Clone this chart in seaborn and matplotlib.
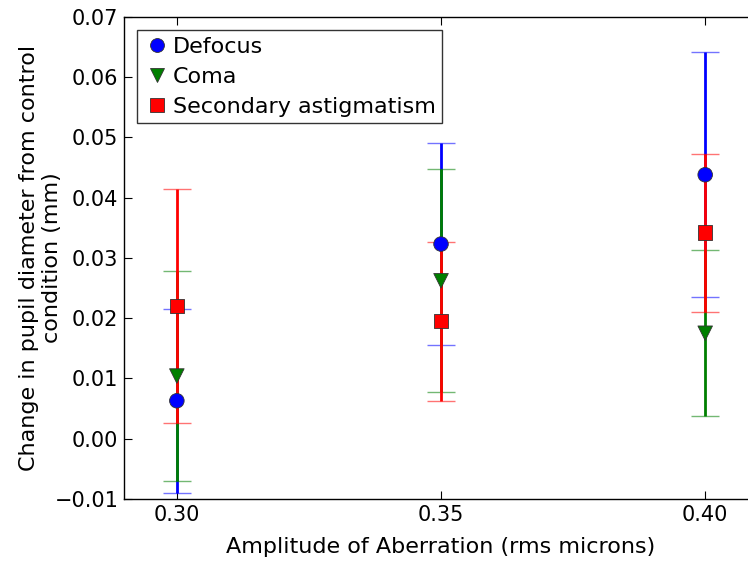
import matplotlib
matplotlib.use("Agg")
import matplotlib.pyplot as plt
import seaborn as sns
import pandas as pd

amplitudes = [0.30, 0.35, 0.40]
series = ["Defocus", "Coma", "Secondary astigmatism"]
defocus_mean = [0.0063, 0.0323, 0.0438]
defocus_err = [0.0153, 0.0167, 0.0203]
coma_mean = [0.0104, 0.0262, 0.0175]
coma_err = [0.0174, 0.0185, 0.0138]
astig_mean = [0.0220, 0.0195, 0.0342]
astig_err = [0.0194, 0.0132, 0.0131]

means = [defocus_mean, coma_mean, astig_mean]
errs = [defocus_err, coma_err, astig_err]
colors = ["#0000ff", "#007f00", "#ff0000"]
markers = ["o", "v", "s"]

rows = []
for name, m, e in zip(series, means, errs):
    for x, v, er in zip(amplitudes, m, e):
        rows.append({"amp": x, "val": v, "err": er, "series": name})
df = pd.DataFrame(rows)

sns.set_style("white")
plt.rcParams["font.family"] = ["DejaVu Sans"]
plt.rcParams["xtick.direction"] = "in"
plt.rcParams["ytick.direction"] = "in"
plt.rcParams["text.color"] = "black"
plt.rcParams["axes.labelcolor"] = "black"
plt.rcParams["xtick.color"] = "black"
plt.rcParams["ytick.color"] = "black"

fig = plt.figure(figsize=(7.48, 5.61), dpi=100)
ax = fig.add_axes([0.1658, 0.1105, 1.0134 - 0.1658, 0.970 - 0.1105])

for name, c in zip(series, colors):
    d = df[df["series"] == name]
    _, caps, _ = ax.errorbar(d["amp"], d["val"], yerr=d["err"], fmt="none", ecolor=c,
                             elinewidth=2, capsize=10, capthick=1, zorder=2)
    for cp in caps:
        cp.set_alpha(0.55)

sns.scatterplot(data=df, x="amp", y="val", hue="series", style="series",
                palette=dict(zip(series, colors)), markers=dict(zip(series, markers)),
                s=110, edgecolor="#333333", linewidth=0.6, ax=ax, zorder=3, legend=False)

handles = [plt.Line2D([], [], linestyle="none", marker=mk, color=c, markersize=10,
                      markeredgecolor="#333333", markeredgewidth=0.6)
           for mk, c in zip(markers, colors)]
leg = ax.legend(handles, series, loc="upper left", fontsize=16, frameon=True,
                fancybox=False, handletextpad=0.1, borderpad=0.3, labelspacing=0.45,
                handlelength=1.2, borderaxespad=0.6, bbox_to_anchor=(0.0, 1.0))
leg.get_frame().set_edgecolor("black")
leg.get_frame().set_linewidth(1)

ax.set_xlim(0.29, 0.41)
ax.set_ylim(-0.01, 0.07)
ax.set_xticks(amplitudes)
ax.set_xticklabels(["0.30", "0.35", "0.40"])
ax.set_yticks([-0.01, 0.0, 0.01, 0.02, 0.03, 0.04, 0.05, 0.06, 0.07])
ax.set_yticklabels(["\u22120.01", "0.00", "0.01", "0.02", "0.03", "0.04", "0.05", "0.06", "0.07"])
ax.tick_params(axis="both", labelsize=15, length=6, width=0.8, color="black",
               top=True, right=True, bottom=True, left=True, pad=4)
for sp in ax.spines.values():
    sp.set_color("black")
    sp.set_linewidth(1)
ax.set_xlabel("Amplitude of Aberration (rms microns)", fontsize=16, labelpad=9)
ax.set_ylabel("Change in pupil diameter from control\ncondition (mm)", fontsize=16,
              ha="center", multialignment="center")
ax.yaxis.set_label_coords(-0.098, 0.5)

fig.savefig("out.png", dpi=100)
